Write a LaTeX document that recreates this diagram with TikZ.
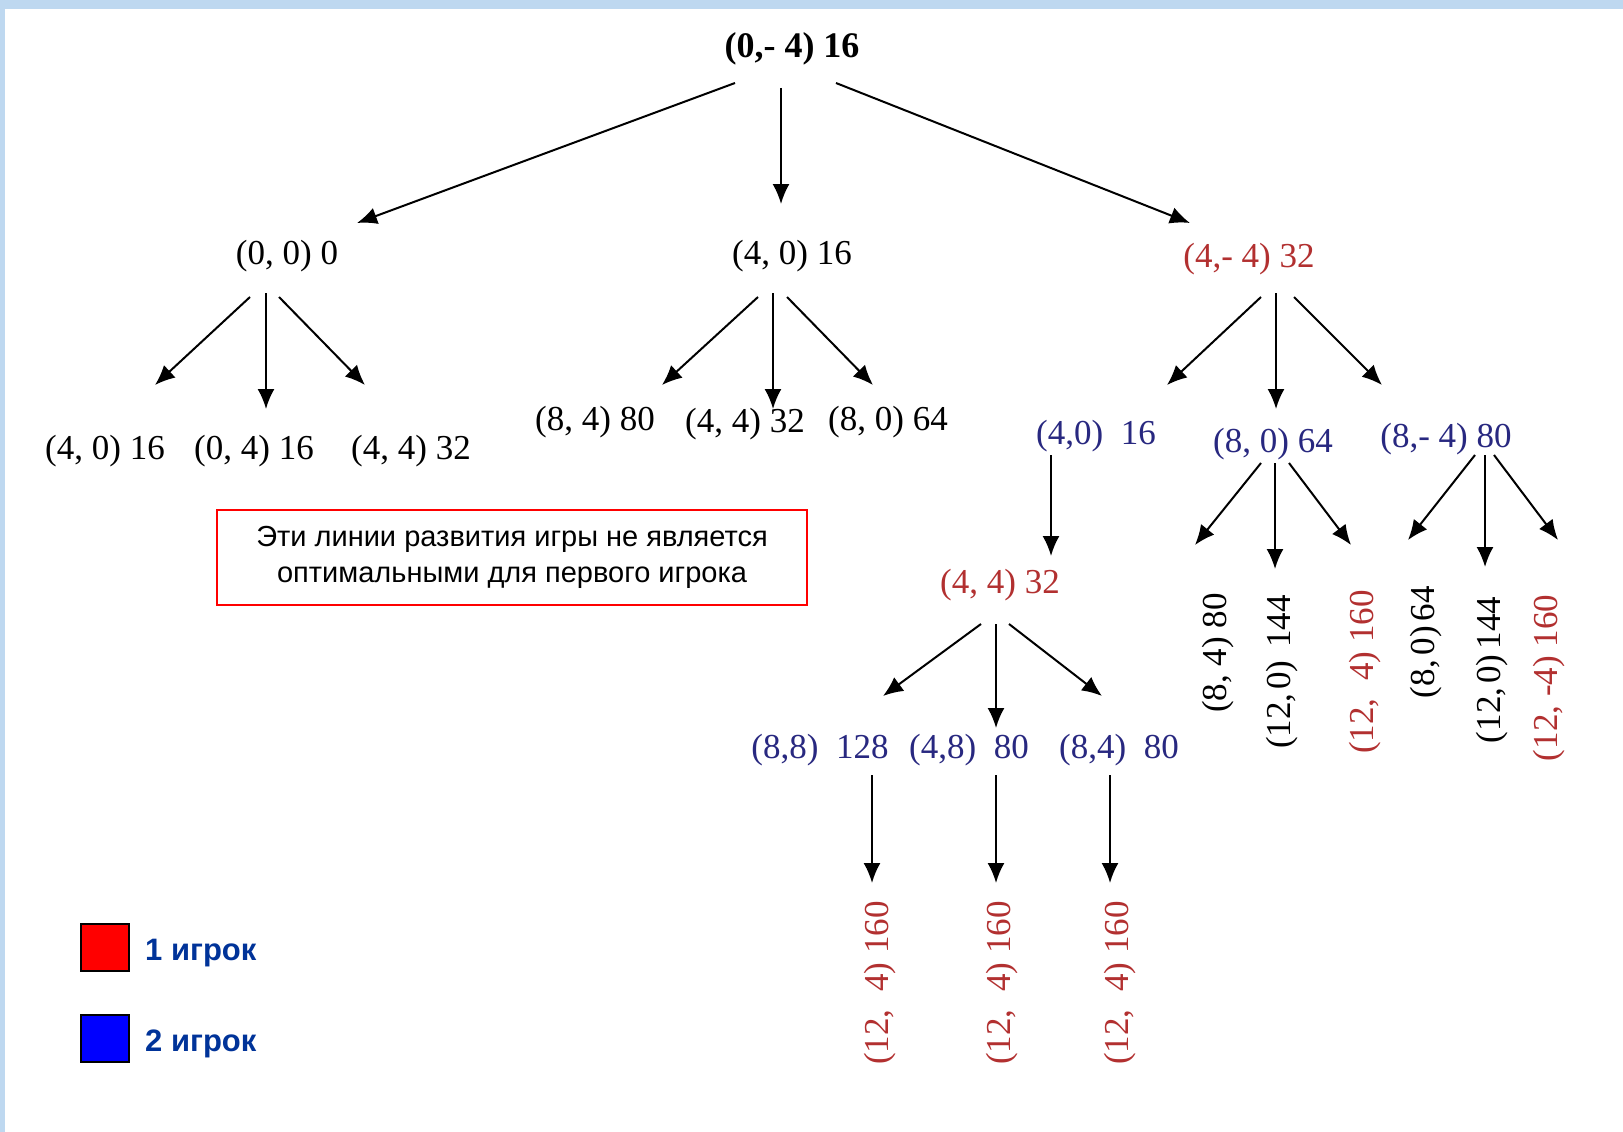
\documentclass[tikz,border=0pt]{standalone}
\usepackage{fontspec}
\setmainfont{Liberation Serif}
\newfontfamily\arialfont{Liberation Sans}
\usetikzlibrary{arrows.meta, calc}

\definecolor{bandblue}{RGB}{190,216,240}
\definecolor{tred}{RGB}{178,48,48}
\definecolor{tblue}{RGB}{40,40,128}
\definecolor{legblue}{RGB}{0,51,153}

\tikzset{
  lbl/.style={inner sep=0pt, font=\fontsize{35}{40}\selectfont},
  one/.style={lbl, text=tred},
  two/.style={lbl, text=tblue},
  vlbl/.style={rotate=90},
  arr/.style={->, line width=2pt}
}

\begin{document}
\begin{tikzpicture}[>={Latex[length=20pt,width=17pt]}, x=1pt, y=-1pt]

\useasboundingbox (0,0) rectangle (1623,1132);
\fill[white] (0,0) rectangle (1623,1132);
\fill[bandblue] (0,0) rectangle (1623,9);
\fill[bandblue] (0,0) rectangle (5,1132);

% root and first level
\node[lbl, font=\fontsize{36}{40}\selectfont\bfseries] (root) at (792,49) {(0,- 4) 16};
\node[lbl] (a) at (287,256) {(0, 0) 0};
\node[lbl] (b) at (792,256) {(4, 0) 16};
\node[one] (c) at (1249,259) {(4,- 4) 32};

\draw[arr] ($(root)+(-57,34)$) -- ($(a)+(70,-33)$);
\draw[arr] ($(root)+(-11,39)$) -- ($(b)+(-11,-52)$);
\draw[arr] ($(root)+(44,34)$) -- ($(c)+(-59,-36)$);

% under (0,0) 0
\node[lbl] (a1) at (105,451) {(4, 0) 16};
\node[lbl] (a2) at (254,451) {(0, 4) 16};
\node[lbl] (a3) at (411,451) {(4, 4) 32};
\draw[arr] ($(a)+(-37,41)$) -- ($(a1)+(50,-66)$);
\draw[arr] ($(a)+(-21,37)$) -- ($(a2)+(12,-42)$);
\draw[arr] ($(a)+(-8,41)$) -- ($(a3)+(-46,-66)$);

% under (4,0) 16
\node[lbl] (b1) at (595,422) {(8, 4) 80};
\node[lbl] (b2) at (745,424) {(4, 4) 32};
\node[lbl] (b3) at (888,422) {(8, 0) 64};
\draw[arr] ($(b)+(-34,41)$) -- ($(b1)+(67,-37)$);
\draw[arr] ($(b)+(-19,37)$) -- ($(b2)+(28,-15)$);
\draw[arr] ($(b)+(-5,41)$) -- ($(b3)+(-15,-37)$);

% under (4,-4) 32
\node[two] (c1) at (1096,436) {(4,0)\ \ 16};
\node[two] (c2) at (1273,444) {(8, 0) 64};
\node[two] (c3) at (1446,439) {(8,- 4) 80};
\draw[arr] ($(c)+(12,38)$) -- ($(c1)+(71,-51)$);
\draw[arr] ($(c)+(27,34)$) -- ($(c2)+(3,-35)$);
\draw[arr] ($(c)+(45,38)$) -- ($(c3)+(-64,-54)$);

\node[one] (d) at (1000,585) {(4, 4) 32};
\draw[arr] ($(c1)+(-45,19)$) -- ($(d)+(51,-29)$);

\node[two] (d1) at (820,750) {(8,8)\ \ 128};
\node[two] (d2) at (969,750) {(4,8)\ \ 80};
\node[two] (d3) at (1119,750) {(8,4)\ \ 80};
\draw[arr] ($(d)+(-19,39)$) -- ($(d1)+(63,-54)$);
\draw[arr] ($(d)+(-4,39)$) -- ($(d2)+(27,-22)$);
\draw[arr] ($(d)+(9,39)$) -- ($(d3)+(-17,-54)$);

\node[one, vlbl] (e1) at (880,983) {(12,\ \ 4)\ 160};
\node[one, vlbl] (e2) at (1002,983) {(12,\ \ 4)\ 160};
\node[one, vlbl] (e3) at (1120,983) {(12,\ \ 4)\ 160};
\draw[arr] ($(d1)+(52,25)$) -- ($(e1)+(-8,-100)$);
\draw[arr] ($(d2)+(27,25)$) -- ($(e2)+(-6,-100)$);
\draw[arr] ($(d3)+(-9,25)$) -- ($(e3)+(-10,-100)$);

% under (8,0) 64
\node[lbl, vlbl] (f1) at (1218,653) {(8, 4) 80};
\node[lbl, vlbl] (f2) at (1282,672) {(12,\hspace{4pt}0)\hspace{4pt}\ 144};
\node[one, vlbl] (f3) at (1365,672) {(12,\ \ 4)\ 160};
\draw[arr] ($(c2)+(-12,19)$) -- ($(f1)+(-23,-108)$);
\draw[arr] ($(c2)+(2,19)$) -- ($(f2)+(-7,-103)$);
\draw[arr] ($(c2)+(16,19)$) -- ($(f3)+(-14,-127)$);

% under (8,-4) 80
\node[lbl, vlbl] (g1) at (1426,642) {(8,\hspace{5pt}0)\hspace{5pt}64};
\node[lbl, vlbl] (g2) at (1492,670) {(12,\hspace{4pt}0)\hspace{5pt}144};
\node[one, vlbl] (g3) at (1549,678) {(12,\ -4)\ 160};
\draw[arr] ($(c3)+(29,16)$) -- ($(g1)+(-18,-102)$);
\draw[arr] ($(c3)+(39,16)$) -- ($(g2)+(-7,-103)$);
\draw[arr] ($(c3)+(48,16)$) -- ($(g3)+(9,-138)$);

% note and legend
\node[draw=red, line width=2pt, minimum width=590pt, minimum height=95pt, align=center,
  font=\arialfont\fontsize{29}{36}\selectfont] (note) at (512,557)
  {Эти линии развития игры не является\\оптимальными для первого игрока};

\node[draw=black, line width=2pt, fill=red, minimum width=48pt, minimum height=47pt, inner sep=0pt] (p1box) at (105,947) {};
\node[draw=black, line width=2pt, fill=blue, minimum width=48pt, minimum height=47pt, inner sep=0pt] (p2box) at (105,1038) {};
\node[anchor=west, inner sep=0pt, text=legblue, font=\arialfont\bfseries\fontsize{31}{36}\selectfont] (p1txt) at (145,953) {1 игрок};
\node[anchor=west, inner sep=0pt, text=legblue, font=\arialfont\bfseries\fontsize{31}{36}\selectfont] (p2txt) at (145,1044) {2 игрок};

\end{tikzpicture}
\end{document}
